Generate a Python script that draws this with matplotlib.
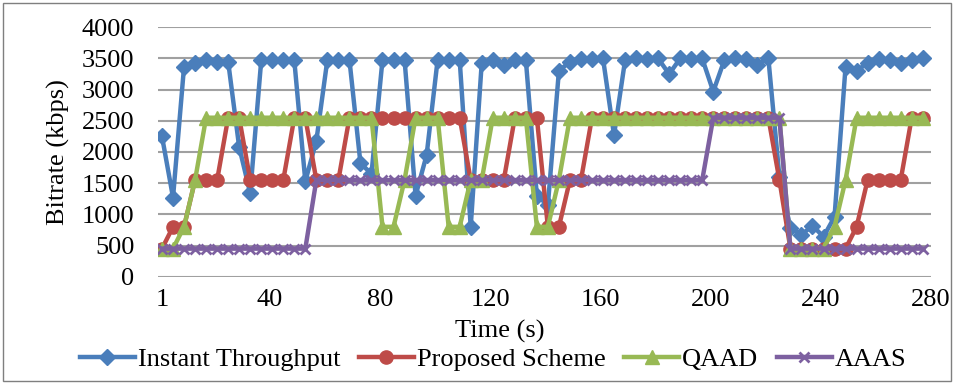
import matplotlib
matplotlib.use('Agg')
import matplotlib.pyplot as plt
from matplotlib.patches import Rectangle

### Sample times (s), one point every 4 s
times = [1, 5, 9, 13, 17, 21, 25, 29, 33, 37,
         41, 45, 49, 53, 57, 61, 65, 69, 73, 77,
         81, 85, 89, 93, 97, 101, 105, 109, 113, 117,
         121, 125, 129, 133, 137, 141, 145, 149, 153, 157,
         161, 165, 169, 173, 177, 181, 185, 189, 193, 197,
         201, 205, 209, 213, 217, 221, 225, 229, 233, 237,
         241, 245, 249, 253, 257, 261, 265, 269, 273, 277]

### Bitrates (kbps)
instant_throughput = [2250, 1270, 3370, 3420, 3470, 3450, 3450, 2080, 1340, 3470,
                      3470, 3470, 3470, 1530, 2180, 3480, 3480, 3480, 1820, 1650,
                      3480, 3480, 3480, 1300, 1950, 3480, 3480, 3480, 800, 3430,
                      3470, 3400, 3470, 3480, 1300, 1150, 3300, 3450, 3490, 3490,
                      3500, 2270, 3470, 3500, 3490, 3500, 3250, 3500, 3490, 3500,
                      2970, 3470, 3500, 3490, 3400, 3500, 1600, 780, 670, 820,
                      640, 960, 3370, 3300, 3430, 3490, 3480, 3420, 3470, 3500]

proposed_scheme = [450, 800, 800, 1550, 1550, 1550, 2550, 2550, 1550, 1550,
                   1550, 1550, 2550, 2550, 1550, 1550, 1550, 2550, 2550, 2550,
                   2550, 2550, 2550, 2550, 2550, 2550, 2550, 2550, 1550, 1550,
                   1550, 1550, 2550, 2550, 2550, 800, 800, 1550, 1550, 2550,
                   2550, 2550, 2550, 2550, 2550, 2550, 2550, 2550, 2550, 2550,
                   2550, 2550, 2550, 2550, 2550, 2550, 1550, 450, 450, 450,
                   450, 450, 450, 800, 1550, 1550, 1550, 1550, 2550, 2550]

qaad = [450, 450, 800, 1550, 2550, 2550, 2550, 2550, 2550, 2550,
        2550, 2550, 2550, 2550, 2550, 2550, 2550, 2550, 2550, 2550,
        800, 800, 1550, 2550, 2550, 2550, 800, 800, 1550, 1550,
        2550, 2550, 2550, 2550, 800, 800, 1550, 2550, 2550, 2550,
        2550, 2550, 2550, 2550, 2550, 2550, 2550, 2550, 2550, 2550,
        2550, 2550, 2550, 2550, 2550, 2550, 2550, 450, 450, 450,
        450, 800, 1550, 2550, 2550, 2550, 2550, 2550, 2550, 2550]

aaas = [450, 450, 450, 450, 450, 450, 450, 450, 450, 450,
        450, 450, 450, 450, 1550, 1550, 1550, 1550, 1550, 1550,
        1550, 1550, 1550, 1550, 1550, 1550, 1550, 1550, 1550, 1550,
        1550, 1550, 1550, 1550, 1550, 1550, 1550, 1550, 1550, 1550,
        1550, 1550, 1550, 1550, 1550, 1550, 1550, 1550, 1550, 1550,
        2550, 2550, 2550, 2550, 2550, 2550, 2550, 450, 450, 450,
        450, 450, 450, 450, 450, 450, 450, 450, 450, 450]

xtick_vals = [1, 40, 80, 120, 160, 200, 240, 280]
ytick_vals = [0, 500, 1000, 1500, 2000, 2500, 3000, 3500, 4000]


def main():
    plt.rcParams['font.family'] = ['Liberation Serif', 'DejaVu Serif']
    FS = 19

    W, H = 958, 384
    fig = plt.figure(figsize=(W/100, H/100), dpi=100)
    ax  = fig.add_axes([158/W, 1-276.7/H, (931-158)/W, (276.7-27.3)/H])

    ### series, drawn in Excel order (later ones on top)
    ax.plot(times, instant_throughput, color='#4A7EBB', lw=3.2, marker='D', ms=8.5, zorder=3,
            label='Instant Throughput')
    ax.plot(times, proposed_scheme, color='#BE4B48', lw=3.2, marker='o', ms=9.5, zorder=4,
            label='Proposed Scheme')
    ax.plot(times, qaad, color='#98B954', lw=3.2, marker='^', ms=9.5, zorder=5,
            label='QAAD')
    ax.plot(times, aaas, color='#7D60A0', lw=3.2, marker='x', ms=7.5, mew=2, zorder=6,
            label='AAAS')

    ax.set_xlim(-0.45, 280)
    ax.set_ylim(0, 4000)
    ax.set_xticks(xtick_vals)
    ax.set_yticks(ytick_vals)
    ax.yaxis.grid(True, color='#A0A0A0', lw=1.5)
    ax.set_axisbelow(True)
    for s in ax.spines.values():
        s.set_visible(False)
    ax.tick_params(axis='y', length=0, labelsize=FS, pad=17)
    ax.tick_params(axis='x', length=0, labelsize=FS, pad=9)

    fig.text(58/W, 1-152/H, 'Bitrate (kbps)', rotation=90, ha='center', va='center', fontsize=FS)
    fig.text(500/W, 1-331/H, 'Time (s)', ha='center', va='center', fontsize=FS)

    fig.legend(loc='center', bbox_to_anchor=(493/W, 1-359/H), ncol=4, frameon=False,
               fontsize=FS, handlelength=2.1, handletextpad=0.1, columnspacing=0.7,
               borderpad=0, borderaxespad=0)

    ### chart border
    fig.patches.append(Rectangle((3/W, 3/H), 948/W, 378/H, transform=fig.transFigure,
                                 fill=False, ec='#7F7F7F', lw=1))

    fig.savefig('out.png', dpi=100)


if __name__ == "__main__":
    main()
